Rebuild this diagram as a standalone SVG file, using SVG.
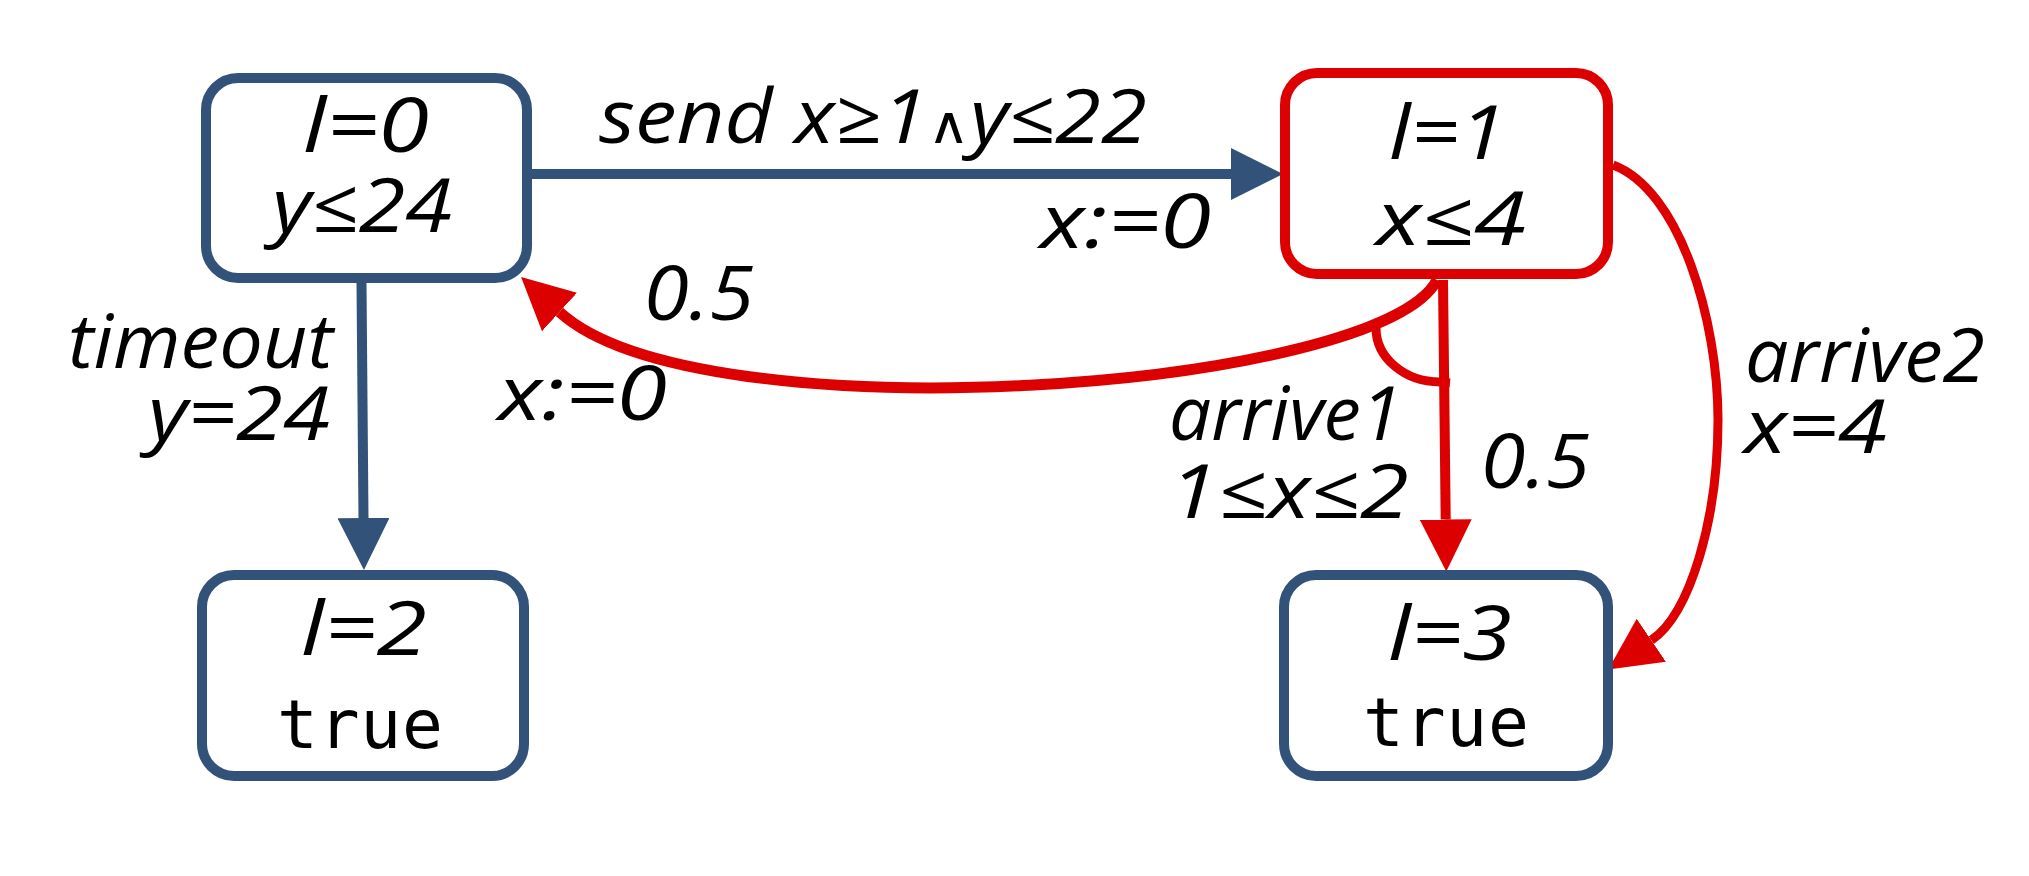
<svg xmlns="http://www.w3.org/2000/svg" width="2029" height="876" viewBox="0 0 2029 876">
<style>
.box{fill:#fff;stroke-width:10}
.blue{stroke:#325279}
.red{stroke:#dd0000}
.t{font-family:"Open Sans","DejaVu Sans",sans-serif;font-style:italic;font-size:75px;fill:#000}
.m{font-family:"DejaVu Sans Mono","Liberation Mono",monospace;font-size:68px;fill:#000}
.e{fill:none}
</style>
<defs>
<marker id="ab" markerUnits="userSpaceOnUse" viewBox="0 0 52 52" markerWidth="52" markerHeight="52" refX="0" refY="26" orient="auto"><path d="M0,0 L52,26 L0,52 Z" fill="#325279"/></marker>
<marker id="ar" markerUnits="userSpaceOnUse" viewBox="0 0 52 52" markerWidth="52" markerHeight="52" refX="0" refY="26" orient="auto"><path d="M0,0 L52,26 L0,52 Z" fill="#dd0000"/></marker>
</defs>
<rect width="2029" height="876" fill="#fff"/>
<g id="connectors">
<path class="e blue" stroke-width="10" d="M531,174 L1231,174" marker-end="url(#ab)"/>
<path class="e blue" stroke-width="10" d="M361.5,283 L363.5,518" marker-end="url(#ab)"/>
<path class="e red" stroke-width="11" d="M1437,280 C1380,390 700,440 559.5,312" marker-end="url(#ar)"/>
<path class="e red" stroke-width="9" d="M1376,328 A64,54 0 0 0 1440,382 L1450,383"/>
<path class="e red" stroke-width="10" d="M1443,280 L1445.7,519.5" marker-end="url(#ar)"/>
<path class="e red" stroke-width="9" d="M1613,165 C1680,190 1718,320 1718,420 C1718,520 1690,614 1651.3,640.3" marker-end="url(#ar)"/>
<text class="t" x="599" y="143" textLength="548" lengthAdjust="spacingAndGlyphs">send x≥1<tspan font-size="52">∧</tspan>y≤22</text>
<text class="t" x="1040" y="248" textLength="171" lengthAdjust="spacingAndGlyphs">x:=0</text>
<text class="t" x="68" y="368" textLength="265" lengthAdjust="spacingAndGlyphs">timeout</text>
<text class="t" x="148" y="440" textLength="182" lengthAdjust="spacingAndGlyphs">y=24</text>
<text class="t" x="644" y="320" textLength="110" lengthAdjust="spacingAndGlyphs">0.5</text>
<text class="t" x="498" y="420" textLength="169" lengthAdjust="spacingAndGlyphs">x:=0</text>
<text class="t" x="1169" y="440" textLength="233" lengthAdjust="spacingAndGlyphs">arrive1</text>
<text class="t" x="1169" y="518" textLength="240" lengthAdjust="spacingAndGlyphs">1≤x≤2</text>
<text class="t" x="1481" y="488" textLength="109" lengthAdjust="spacingAndGlyphs">0.5</text>
<text class="t" x="1745" y="382" textLength="240" lengthAdjust="spacingAndGlyphs">arrive2</text>
<text class="t" x="1744" y="453" textLength="143" lengthAdjust="spacingAndGlyphs">x=4</text>
</g>
<g id="n0">
<rect class="box blue" x="206" y="78" width="321" height="200" rx="32"/>
<text class="t" x="303" y="152" textLength="126" lengthAdjust="spacingAndGlyphs">l=0</text>
<text class="t" x="272" y="232" textLength="180" lengthAdjust="spacingAndGlyphs">y≤24</text>
</g>
<g id="n1">
<rect class="box red" x="1285" y="73" width="323" height="201" rx="32"/>
<text class="t" x="1389" y="159" textLength="117" lengthAdjust="spacingAndGlyphs">l=1</text>
<text class="t" x="1376" y="245" textLength="150" lengthAdjust="spacingAndGlyphs">x≤4</text>
</g>
<g id="n2">
<rect class="box blue" x="202" y="575" width="322" height="201" rx="32"/>
<text class="t" x="301" y="655" textLength="126" lengthAdjust="spacingAndGlyphs">l=2</text>
<text class="m" x="277" y="748" textLength="166">true</text>
</g>
<g id="n3">
<rect class="box blue" x="1284" y="575" width="324" height="201" rx="32"/>
<text class="t" x="1388" y="660" textLength="124" lengthAdjust="spacingAndGlyphs">l=3</text>
<text class="m" x="1363" y="746" textLength="166">true</text>
</g>
</svg>
